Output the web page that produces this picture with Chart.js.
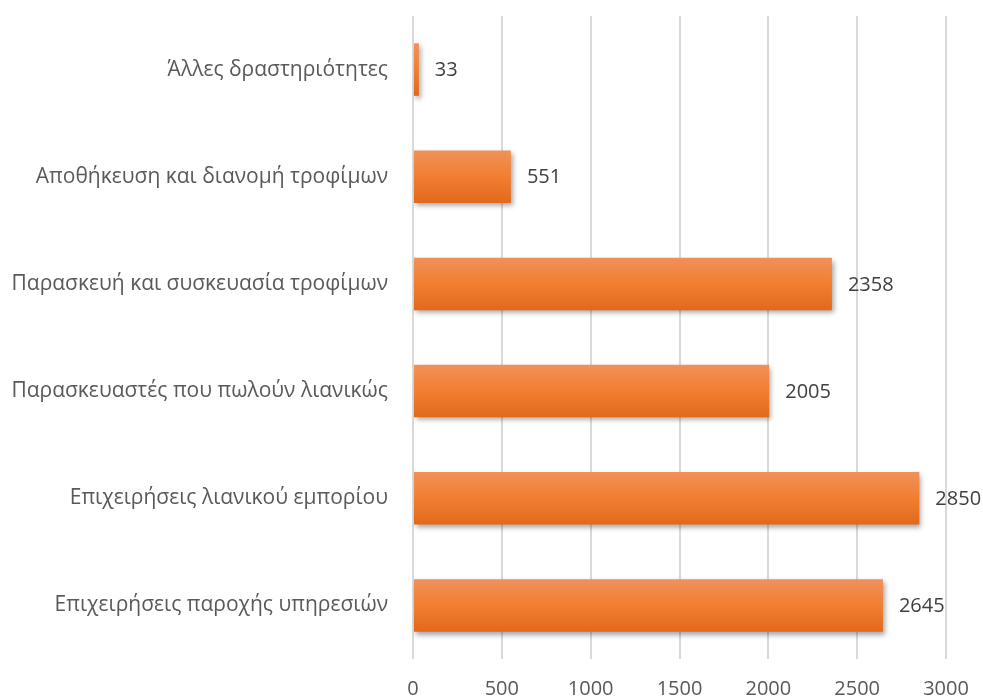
<!DOCTYPE html>
<html><head><meta charset="utf-8">
<script src="https://cdn.jsdelivr.net/npm/chart.js@4/dist/chart.umd.min.js"></script>
<style>html,body{margin:0;padding:0;background:#fff;}#wrap{width:983px;height:700px;}</style>
</head><body><div id="wrap"><canvas id="c" width="983" height="700"></canvas></div>
<script>
const categories = ["Άλλες δραστηριότητες","Αποθήκευση και διανομή τροφίμων","Παρασκευή και συσκευασία τροφίμων","Παρασκευαστές που πωλούν λιανικώς","Επιχειρήσεις λιανικού εμπορίου","Επιχειρήσεις παροχής υπηρεσιών"];
const values = [33, 551, 2358, 2005, 2850, 2645];
const xTicks = [0, 500, 1000, 1500, 2000, 2500, 3000];
const FONT = "'Open Sans', 'Noto Sans', sans-serif";

const shadowPlugin = {
  id: 'shadow',
  beforeDatasetsDraw(chart){ const c=chart.ctx; c.save(); c.shadowColor='rgba(0,0,0,0.35)'; c.shadowBlur=5; c.shadowOffsetX=2; c.shadowOffsetY=3; },
  afterDatasetsDraw(chart){ chart.ctx.restore(); }
};
const labelPlugin = {
  id: 'vals',
  afterDatasetsDraw(chart){
    const c=chart.ctx; const meta=chart.getDatasetMeta(0);
    c.save(); c.fillStyle='#404040'; c.font='20px '+FONT; c.textBaseline='middle'; c.textAlign='left';
    meta.data.forEach((bar,i)=>{ c.fillText(String(values[i]), bar.x+16, bar.y+1); });
    c.restore();
  }
};
new Chart(document.getElementById('c'), {
  type: 'bar',
  data: { labels: categories, datasets: [{ data: values, barPercentage: 0.98, categoryPercentage: 0.5,
    backgroundColor(ctx){
      const chart=ctx.chart; if(!chart.chartArea) return '#ED7D31';
      const y=chart.scales.y.getPixelForValue(ctx.dataIndex); const h=26;
      const g=chart.ctx.createLinearGradient(0,y-h,0,y+h);
      g.addColorStop(0,'#F0915A'); g.addColorStop(0.5,'#F27E30'); g.addColorStop(1,'#E2691C');
      return g;
    } }] },
  plugins: [shadowPlugin, labelPlugin],
  options: {
    indexAxis: 'y', responsive: false, animation: false,
    layout: { padding: { top: 16, right: 37, left: 0, bottom: 0 } },
    plugins: { legend: { display: false }, tooltip: { enabled: false } },
    scales: {
      x: { min: 0, max: 3000, position: 'bottom',
        afterBuildTicks(s){ s.ticks = xTicks.map(v=>({value:v})); },
        afterFit(s){ s.height = 41; s.paddingRight = 0; s.paddingLeft = 0; },
        grid: { color: '#D9D9D9', lineWidth: 2, drawTicks: false },
        border: { display: false },
        ticks: { color: '#595959', font: { family: FONT, size: 20 }, padding: 18, callback: v => String(v) } },
      y: { afterFit(s){ s.width = 413; s.paddingTop = 0; s.paddingBottom = 0; },
        grid: { display: false, drawTicks: false }, border: { display: false },
        ticks: { color: '#595959', font: { family: FONT, size: 21 }, padding: 25 } }
    }
  }
});
</script></body></html>
